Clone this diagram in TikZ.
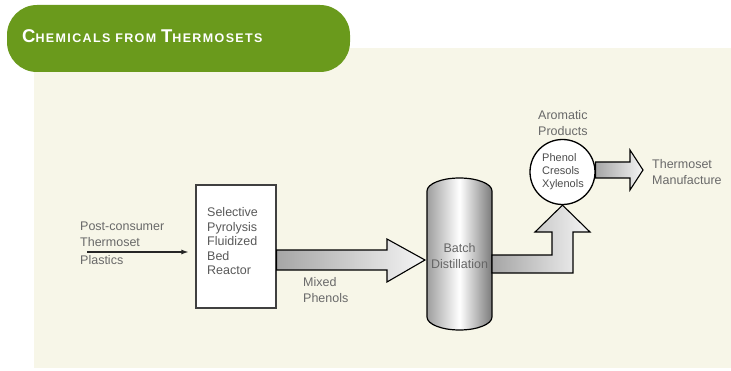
\documentclass[tikz,border=0pt]{standalone}
\usepackage{fontspec}
\setmainfont{Liberation Sans}
\newfontfamily\titlefont[LetterSpace=11]{Liberation Sans}
\usetikzlibrary{arrows.meta,calc}
\definecolor{cream}{RGB}{247,246,232}
\definecolor{banner}{RGB}{106,154,28}
\definecolor{txtgray}{RGB}{105,105,105}
\tikzset{
  lbl/.style={font=\fontsize{12.5}{15.5}\selectfont, text=txtgray, align=left, inner sep=0pt, anchor=north west},
  fatarrow/.style={draw=black, line width=1.1pt, line join=miter, left color=black!35, right color=black!4},
}
\begin{document}
\begin{tikzpicture}[x=1pt,y=1pt]
\useasboundingbox (0,0) rectangle (731,370);
% background panel
\fill[cream] (34,2) rectangle (731,322);
% title banner
\fill[banner, rounded corners=30pt] (7,298) rectangle (350,365);
\node[anchor=base west, inner sep=0pt, text=white, font=\titlefont\bfseries] (title) at (22,327)
  {{\fontsize{18.5}{18.5}\selectfont C}{\fontsize{12.5}{12.5}\selectfont HEMICALS FROM }{\fontsize{18.5}{18.5}\selectfont T}{\fontsize{12.5}{12.5}\selectfont HERMOSETS}};

% input label and arrow
\node[lbl] (input) at (80,148) {Post-consumer\\Thermoset\\[3pt]Plastics};
\coordinate (instart) at (87,118);

% reactor
\node[draw=black!75, line width=1.2pt, fill=white, minimum width=80pt, minimum height=123pt, inner sep=0pt] (reactor) at (236,123.5) {};
\node[lbl, font=\fontsize{12.5}{14.5}\selectfont, text=black!65] (reactortxt) at (207,162.5) {Selective\\Pyrolysis\\Fluidized\\Bed\\Reactor};
\draw[-{Latex[length=7pt,width=5pt]}, line width=1.1pt, black!85, shorten >=7pt] (instart) -- (instart -| reactor.west);

% mixed phenols arrow
\path[fatarrow] (reactor.east |- 0,120) -- (387,120) -- (387,131) -- (425,110) -- (387,88) -- (387,100) -- (reactor.east |- 0,100) -- cycle;
\node[lbl] (mixed) at (303,92.5) {Mixed\\Phenols};

% distillation column
\path[draw=black, line width=1.2pt, left color=black!38, right color=black!52, middle color=white]
  (427,179) -- (427,53) arc[start angle=180, end angle=360, x radius=32.5pt, y radius=13pt]
  -- (492,179) arc[start angle=0, end angle=180, x radius=32.5pt, y radius=13pt] -- cycle;
\node[font=\fontsize{12.5}{15.5}\selectfont, text=black!60, align=center, inner sep=0pt] (column) at (459.5,114) {Batch\\Distillation};

% products circle
\node[circle, draw=black, line width=1.3pt, fill=white, minimum size=65pt, inner sep=0pt] (products) at (562.5,198) {};
\node[font=\fontsize{11}{13}\selectfont, text=black!70, align=left, inner sep=0pt] (productstxt) at (563,198) {Phenol\\Cresols\\Xylenols};
\node[lbl] (aromatic) at (538,259.5) {Aromatic\\Products};

% L-shaped arrow from column to products
\path[fatarrow] (492,115) -- (552,115) -- (552,138) -- (535,138) -- (products.south) -- (590,138) -- (573,138) -- (573,97) -- (492,97) -- cycle;

% arrow to thermoset manufacture
\path[fatarrow] (products.east |- 0,208) -- (630,208) -- (630,220) -- (643,200) -- (630,180) -- (630,192) -- (products.east |- 0,192) -- cycle;
\node[lbl] (manuf) at (652,210.5) {Thermoset\\Manufacture};
\end{tikzpicture}
\end{document}
